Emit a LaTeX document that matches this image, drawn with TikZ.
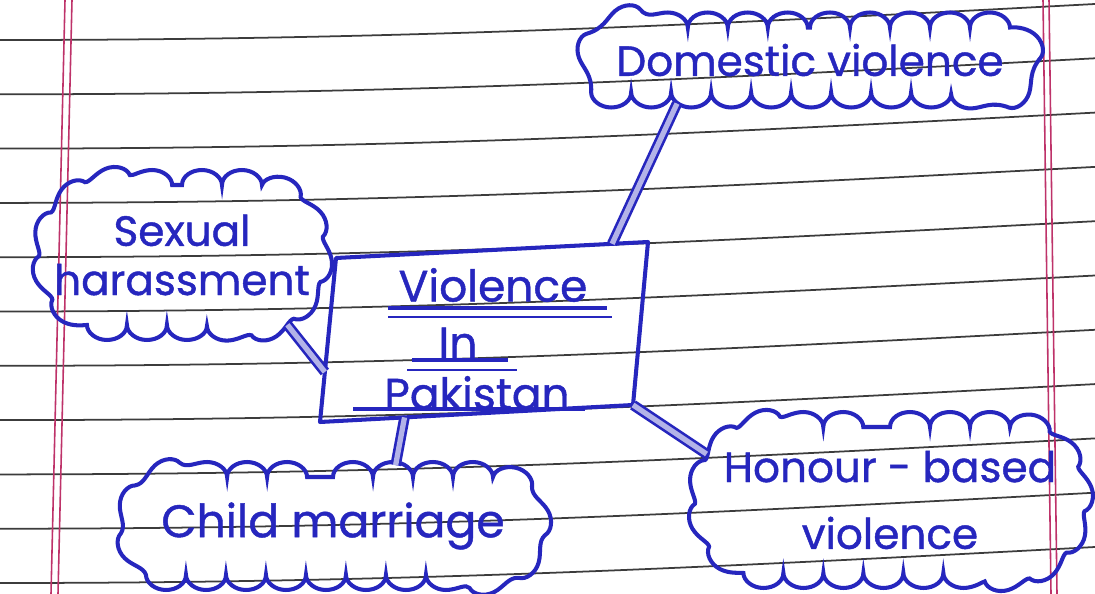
\documentclass[tikz,border=0pt]{standalone}
\usepackage{fontspec}
\setmainfont{Poppins}
\newfontfamily\hand{Poppins}[FakeBold=1]
\usetikzlibrary{shapes.misc,decorations.pathmorphing,calc}
\definecolor{ink}{RGB}{38,38,190}
\definecolor{rule}{RGB}{60,60,60}
\definecolor{margin}{RGB}{190,50,105}
\tikzset{
  bubble/.style={rounded rectangle, draw=ink, line width=2.3pt, inner sep=0pt,
    decorate, decoration={bumps, segment length=1.6cm, amplitude=0.3cm}},
  txt/.style={text=ink, align=center, font=\hand\fontsize{24}{28}\selectfont},
  link/.style={draw=ink, line width=1.5pt, double=ink!35, double distance=3pt,
    shorten >=0.2cm},
  title/.style={text=ink, font=\hand\fontsize{25}{28}\selectfont},
}

\begin{document}
\begin{tikzpicture}[x=0.02cm,y=-0.02cm]
    \useasboundingbox (0,0) rectangle (1095,594);
    \clip (0,0) rectangle (1095,594);
    % paper
    \fill[white] (0,0) rectangle (1095,594);
    \foreach \y in {40,94.3,...,640}
        \draw[rule, line width=1pt] (0,\y) .. controls (400,\y) and (700,\y-15) .. (1095,\y-36);
    \draw[margin, line width=0.9pt] (65,0) -- (51,594);
    \draw[margin, line width=0.9pt] (72,0) -- (58,594);
    \draw[margin, line width=0.9pt] (1043,0) -- (1051,594);
    \draw[margin, line width=0.9pt] (1049,0) -- (1057,594);
    % centre box
    \coordinate (b-nw) at (336,258);
    \coordinate (b-ne) at (648,242);
    \coordinate (b-se) at (633,405);
    \coordinate (b-sw) at (320,422);
    \draw[ink, line width=2.3pt, line join=round] (b-nw) -- (b-ne) -- (b-se) -- (b-sw) -- cycle;
    \node[title] (t1) at (493,285) {Violence};
    \node[title] (t2) at (458,343) {In};
    \node[title] (t3) at (477,393) {Pakistan};
    \draw[ink, line width=2.8pt] (388,308) -- (607,308);
    \draw[ink, line width=1.2pt] (388,317) -- (612,317);
    \draw[ink, line width=2.8pt] (412,360) -- (508,360);
    \draw[ink, line width=1.2pt] (407,370) -- (517,370);
    \draw[ink, line width=2.8pt] (353,409) -- (585,409);
    % clouds
    \node[bubble, minimum width=8.48cm, minimum height=1.3cm,
        label={[txt]center:Domestic violence}] (dom) at (810,60) {};
    \node[bubble, minimum width=5.3cm, minimum height=2.8cm,
        label={[txt]center:{Sexual\\harassment}}] (sex) at (182,255) {};
    \node[bubble, minimum width=7.94cm, minimum height=1.96cm,
        label={[txt, font=\hand\fontsize{26}{28}\selectfont]center:Child marriage}] (child) at (333,526) {};
    \node[bubble, minimum width=7.4cm, minimum height=2.92cm,
        label={[txt, font=\hand\fontsize{24}{38}\selectfont]center:{Honour - based\\violence}}] (hon) at (890,500) {};
    % links
    \draw[link] ($(b-nw)!0.885!(b-ne)$) -- (dom.195);
    \draw[link] ($(b-nw)!0.695!(b-sw)$) -- (sex.328);
    \draw[link] ($(b-sw)!0.27!(b-se)$) -- (child.40);
    \draw[link] (b-se) -- (hon.167);
\end{tikzpicture}
\end{document}
